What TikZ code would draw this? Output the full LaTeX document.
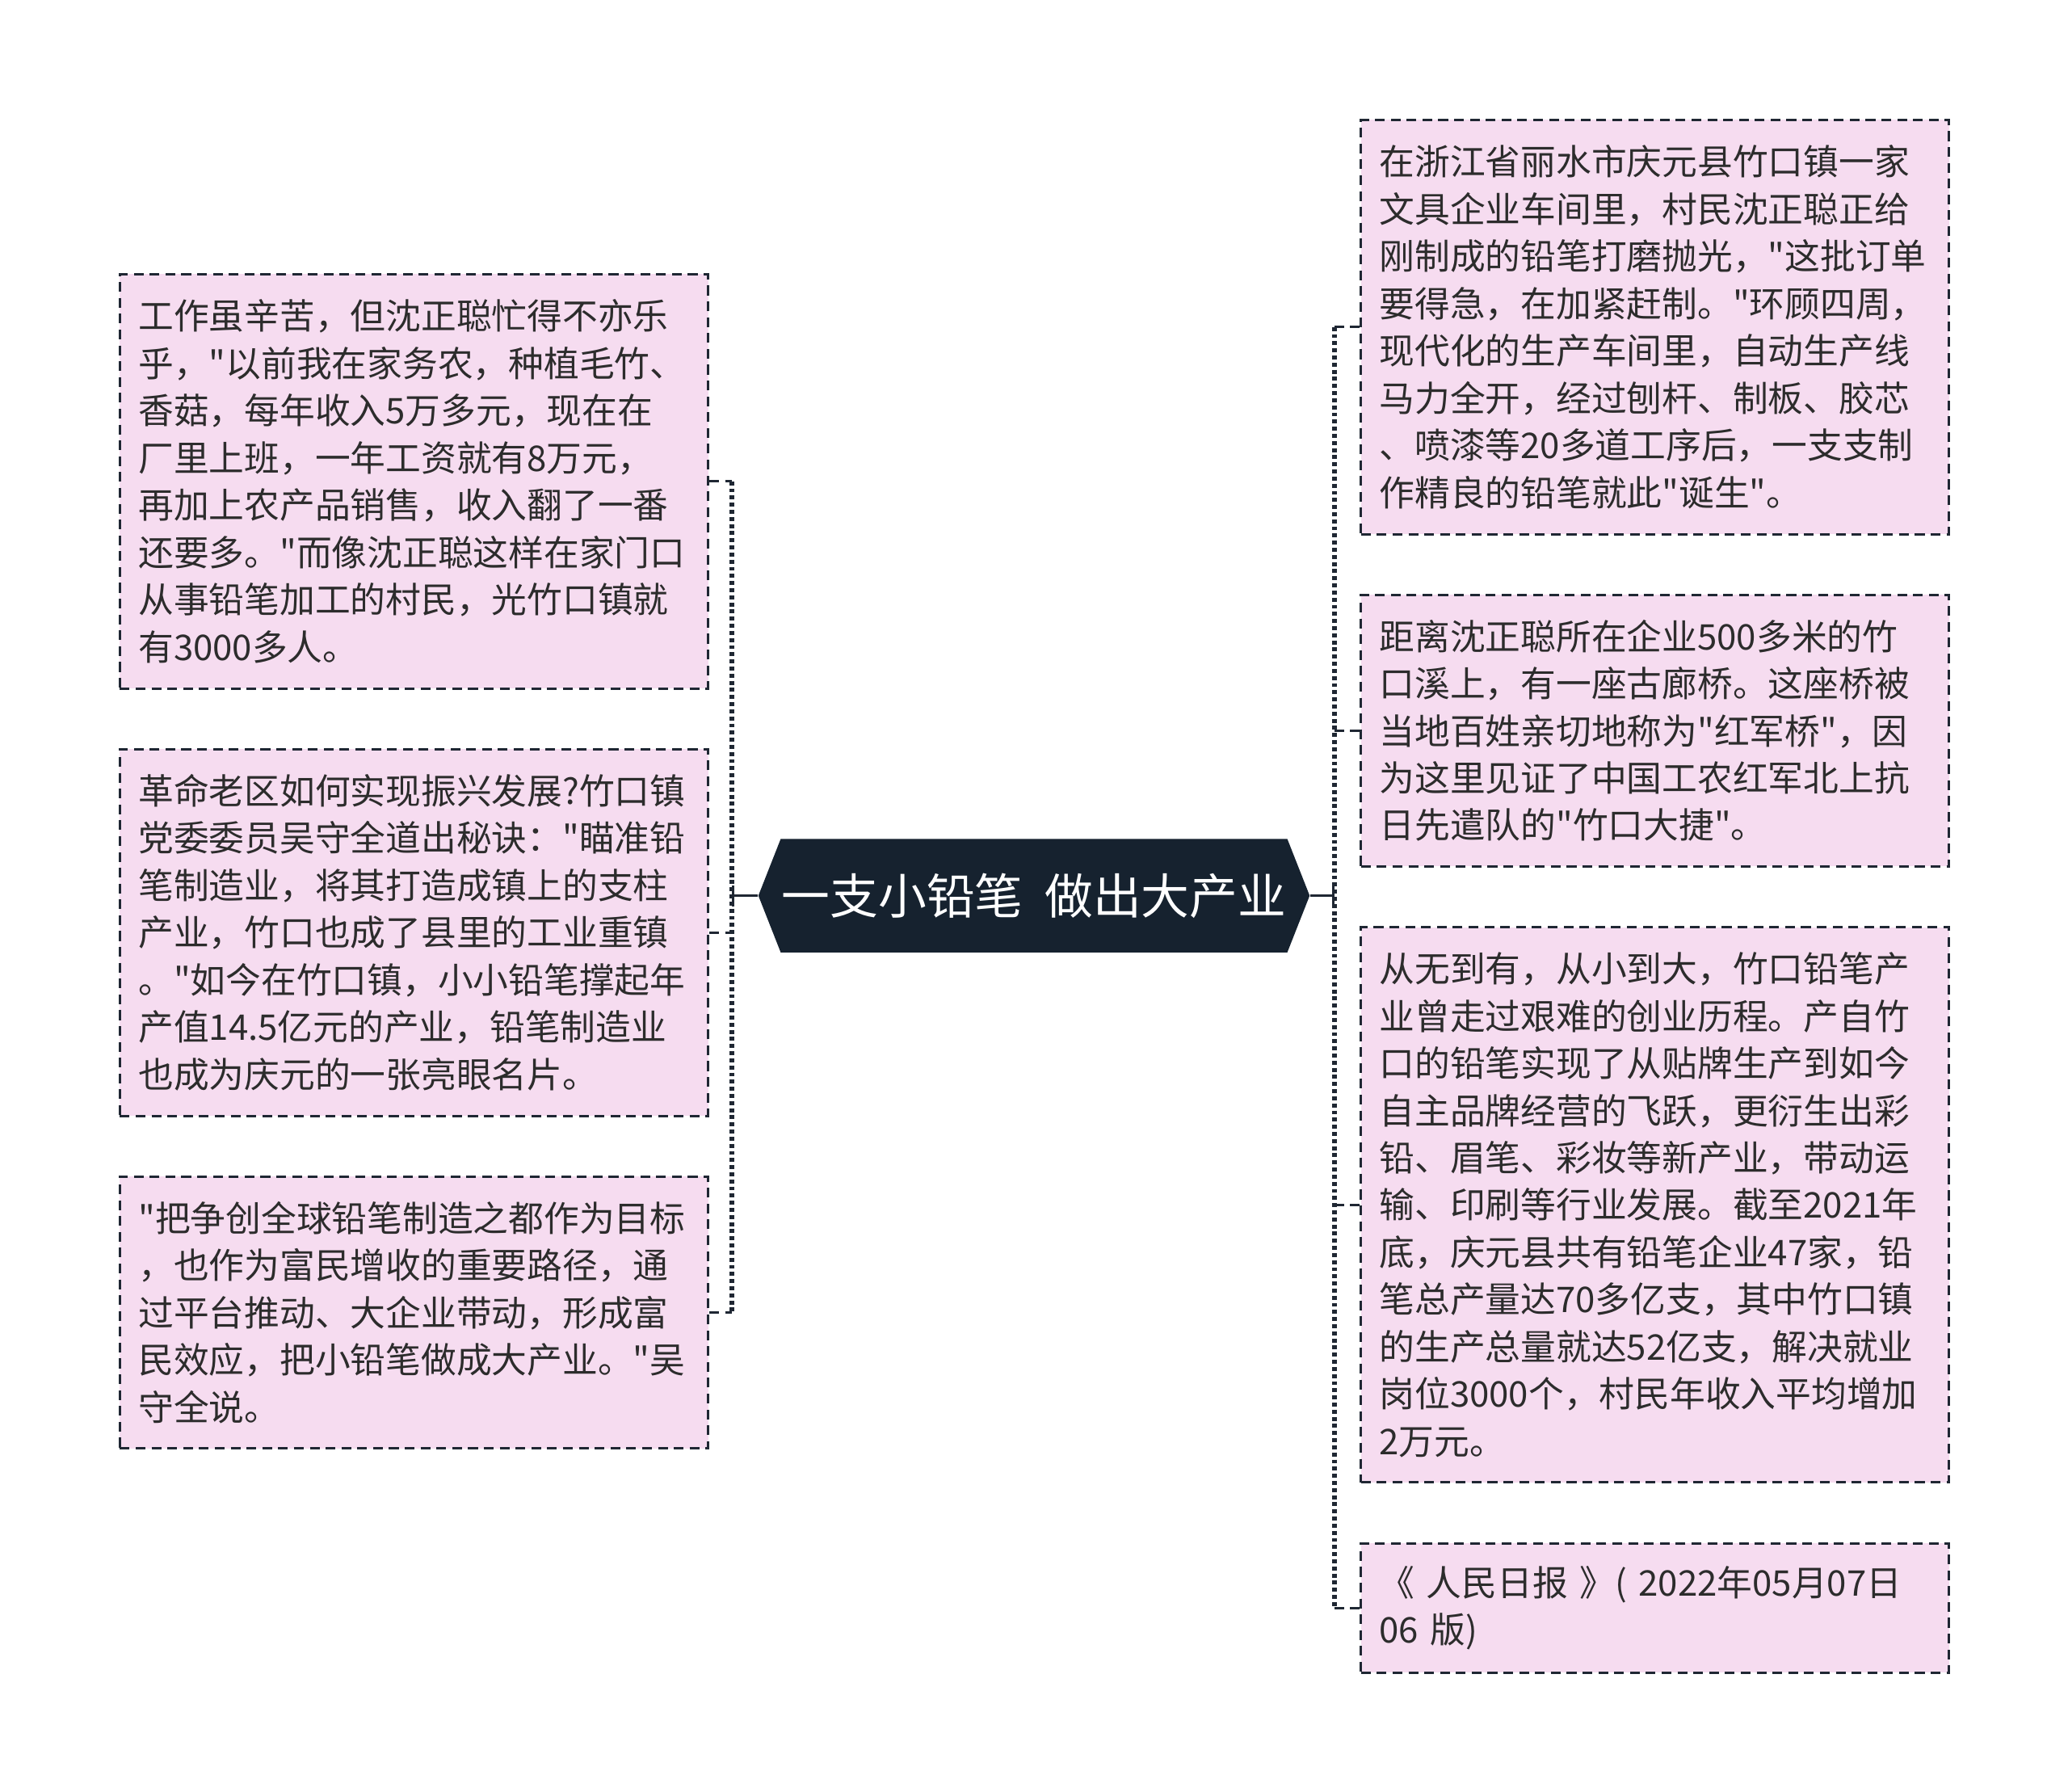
\documentclass[tikz,border=0pt]{standalone}
\usepackage{fontspec}
\newfontfamily\cjkfont{Noto Sans CJK SC}
\usetikzlibrary{shapes.symbols}

\definecolor{cardfill}{HTML}{F6DCF0}
\definecolor{cardline}{HTML}{1F2733}
\definecolor{rootfill}{HTML}{16222F}
\definecolor{textc}{HTML}{2C2C2C}

\tikzset{
  card/.style={draw=cardline, fill=cardfill, line width=0.9pt, dash pattern=on 3.7pt off 2.3pt,
    text=textc, font=\cjkfont\fontsize{13.4pt}{17.9pt}\selectfont, text width=209pt,
    inner xsep=6.5pt, inner ysep=0pt, align=left, anchor=north west, minimum width=223pt},
  stub/.style={draw=cardline, line width=0.9pt, dash pattern=on 3.7pt off 2.3pt},
  trunk/.style={draw=cardline, line width=1.8pt, dash pattern=on 1.5pt off 1.2pt},
  rootbox/.style={shape=signal, signal to=west and east, signal pointer angle=137,
    fill=rootfill, text=white, font=\cjkfont\fontsize{18.3pt}{22pt}\selectfont,
    minimum width=209pt, minimum height=43pt, inner sep=0pt},
  rootlink/.style={-|, draw=cardline, line width=1pt}
}

\begin{document}
\begin{tikzpicture}[x=0.5pt, y=-0.5pt]
        % Page size
        \useasboundingbox (0,0) rectangle (1568,1358);

        % Centre topic
        \node[rootbox] (root) at (784,679) {一支小铅笔\ \ 做出大产业};

        % Left cards
        \node[card, minimum height=157pt] (l1) at (90,207) {工作虽辛苦，但沈正聪忙得不亦乐\\乎，"以前我在家务农，种植毛竹、\\香菇，每年收入5万多元，现在在\\厂里上班，一年工资就有8万元，\\再加上农产品销售，收入翻了一番\\还要多。"而像沈正聪这样在家门口\\从事铅笔加工的村民，光竹口镇就\\有3000多人。};
        \node[card, minimum height=139pt] (l2) at (90,567) {革命老区如何实现振兴发展?竹口镇\\党委委员吴守全道出秘诀："瞄准铅\\笔制造业，将其打造成镇上的支柱\\产业，竹口也成了县里的工业重镇\\。"如今在竹口镇，小小铅笔撑起年\\产值14.5亿元的产业，铅笔制造业\\也成为庆元的一张亮眼名片。};
        \node[card, minimum height=103pt] (l3) at (90,891) {"把争创全球铅笔制造之都作为目标\\，也作为富民增收的重要路径，通\\过平台推动、大企业带动，形成富\\民效应，把小铅笔做成大产业。"吴\\守全说。};

        % Right cards
        \node[card, minimum height=157pt] (r1) at (1031,90) {在浙江省丽水市庆元县竹口镇一家\\文具企业车间里，村民沈正聪正给\\刚制成的铅笔打磨抛光，"这批订单\\要得急，在加紧赶制。"环顾四周，\\现代化的生产车间里，自动生产线\\马力全开，经过刨杆、制板、胶芯\\、喷漆等20多道工序后，一支支制\\作精良的铅笔就此"诞生"。};
        \node[card, minimum height=103pt] (r2) at (1031,450) {距离沈正聪所在企业500多米的竹\\口溪上，有一座古廊桥。这座桥被\\当地百姓亲切地称为"红军桥"，因\\为这里见证了中国工农红军北上抗\\日先遣队的"竹口大捷"。};
        \node[card, minimum height=210.5pt] (r3) at (1031,702) {从无到有，从小到大，竹口铅笔产\\业曾走过艰难的创业历程。产自竹\\口的铅笔实现了从贴牌生产到如今\\自主品牌经营的飞跃，更衍生出彩\\铅、眉笔、彩妆等新产业，带动运\\输、印刷等行业发展。截至2021年\\底，庆元县共有铅笔企业47家，铅\\笔总产量达70多亿支，其中竹口镇\\的生产总量就达52亿支，解决就业\\岗位3000个，村民年收入平均增加\\2万元。};
        \node[card, minimum height=49pt] (r4) at (1031,1169) {《 人民日报 》( 2022年05月07日\\06 版)};

        % Trunks
        \coordinate (lt) at (555,679);
        \coordinate (rt) at (1012,679);
        \draw[trunk] (l1.east -| lt) -- (l3.east -| lt);
        \draw[trunk] (r1.west -| rt) -- (r4.west -| rt);

        % Branches
        \draw[rootlink] (root.west) -- (lt);
        \draw[rootlink] (root.east) -- (rt);
        \foreach \n in {l1,l2,l3}
          \draw[stub] (\n.east) -- (\n.east -| lt);
        \foreach \n in {r1,r2,r3,r4}
          \draw[stub] (\n.west) -- (\n.west -| rt);
\end{tikzpicture}
\end{document}
